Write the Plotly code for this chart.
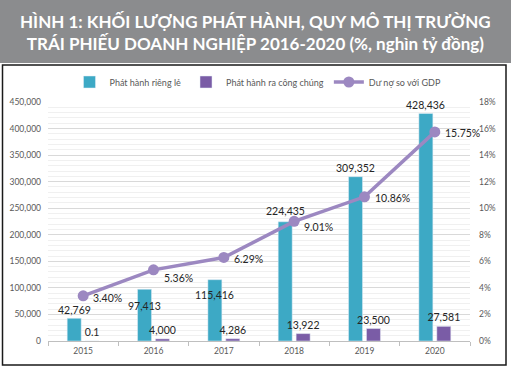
import plotly.graph_objects as go

years = ["2015", "2016", "2017", "2018", "2019", "2020"]
rieng_le = [42769, 97413, 115416, 224435, 309352, 428436]
cong_chung = [0.1, 4000, 4286, 13922, 23500, 27581]
du_no_gdp = [3.40, 5.36, 6.29, 9.01, 10.86, 15.75]
rieng_le_labels = ["42,769", "97,413", "115,416", "224,435", "309,352", "428,436"]
cong_chung_labels = ["0.1", "4,000", "4,286", "13,922", "23,500", "27,581"]
gdp_labels = ["3.40%", "5.36%", "6.29%", "9.01%", "10.86%", "15.75%"]
bar_label_yshift = [8, -17, -15, 11, 8.5, 8.5]
gdp_label_yshift = [-2, -8, -2, -6, -1, -1]

W, H = 511, 368
ML, MR, MT, MB = 48, 41, 102, 27
PW, PH = W - ML - MR, H - MT - MB

def px_x(x):
    return (x - ML) / PW

def px_y(y):
    return (H - MB - y) / PH

TEAL = "#3DA9C5"
PURPLE = "#7A5CA6"
LAV = "#9C88C1"
FONT = "Lato"
LBL = dict(family=FONT, size=10.5, color="#262626")
TICK = dict(family=FONT, size=8.5, color="#595959")

fig = go.Figure()
fig.add_trace(go.Bar(x=years, y=rieng_le, name="Phát hành riêng lẻ",
                     marker_color=TEAL))
fig.add_trace(go.Bar(x=years, y=cong_chung, name="Phát hành ra công chúng",
                     marker_color=PURPLE, text=cong_chung_labels,
                     textposition="outside", constraintext="none",
                     cliponaxis=False, textfont=LBL))
fig.add_trace(go.Scatter(x=years, y=du_no_gdp, name="Dư nợ so với GDP",
                         yaxis="y2", mode="lines+markers",
                         line=dict(color=LAV, width=3.5),
                         marker=dict(color=LAV, size=11),
                         cliponaxis=False))

# category axis: annotations use the category index
for i, (v, lab, ys) in enumerate(zip(rieng_le, rieng_le_labels, bar_label_yshift)):
    fig.add_annotation(x=i, y=v, text=lab, showarrow=False, xshift=-9,
                       yshift=ys, yanchor="middle", font=LBL)
for i, (v, lab, ys) in enumerate(zip(du_no_gdp, gdp_labels, gdp_label_yshift)):
    fig.add_annotation(x=i, y=v, yref="y2", text=lab, showarrow=False,
                       xanchor="left", yanchor="middle", xshift=8, yshift=ys,
                       font=LBL)

# gray title band
fig.add_shape(type="rect", xref="paper", yref="paper",
              x0=px_x(0), x1=px_x(W), y0=px_y(63), y1=px_y(0),
              fillcolor="#8B8C8E", line_width=0, layer="below")
# chart frame
fig.add_shape(type="rect", xref="paper", yref="paper",
              x0=px_x(2.5), x1=px_x(506), y0=px_y(365), y1=px_y(65),
              line=dict(color="#1a1a1a", width=1.5), layer="below")

fig.add_annotation(xref="paper", yref="paper", x=px_x(255), y=px_y(33),
                   text="<b>HÌNH 1: KHỐI LƯỢNG PHÁT HÀNH, QUY MÔ THỊ TRƯỜNG<br>"
                        "TRÁI PHIẾU DOANH NGHIỆP 2016-2020 (%, nghìn tỷ đồng)</b>",
                   showarrow=False, xanchor="center", yanchor="middle",
                   font=dict(family=FONT, size=17, color="white"))

fig.update_layout(
    width=W, height=H,
    margin=dict(l=ML, r=MR, t=MT, b=MB, autoexpand=False),
    paper_bgcolor="white", plot_bgcolor="white",
    barmode="group", bargap=0.49, bargroupgap=0.22,
    showlegend=True,
    legend=dict(orientation="h", x=px_x(258), xanchor="center",
                y=px_y(82), yanchor="middle",
                font=dict(family=FONT, size=9, color="#595959"),
                bgcolor="rgba(0,0,0,0)", itemwidth=30),
    xaxis=dict(type="category", range=[-0.5, 5.5], showgrid=False,
               automargin=False, showline=True, linecolor="#BFBFBF",
               ticks="outside", tickson="boundaries", ticklen=4,
               tickcolor="#BFBFBF", ticklabelstandoff=2, tickfont=TICK),
    yaxis=dict(range=[0, 450000], dtick=50000, tickformat=",",
               automargin=False, ticklabelstandoff=6,
               showgrid=True, gridcolor="#D9D9D9", gridwidth=1,
               minor=dict(dtick=10000, showgrid=True, gridcolor="#F0F0F0"),
               zeroline=False, tickfont=TICK),
    yaxis2=dict(range=[0, 18], dtick=2, ticksuffix="%", overlaying="y",
                side="right", showgrid=False, zeroline=False, automargin=False,
                ticklabelstandoff=8, tickfont=TICK),
)

fig.write_html("out.html", config={"displayModeBar": False},
               post_script="document.body.style.margin='0px';document.body.style.overflow='hidden';")
